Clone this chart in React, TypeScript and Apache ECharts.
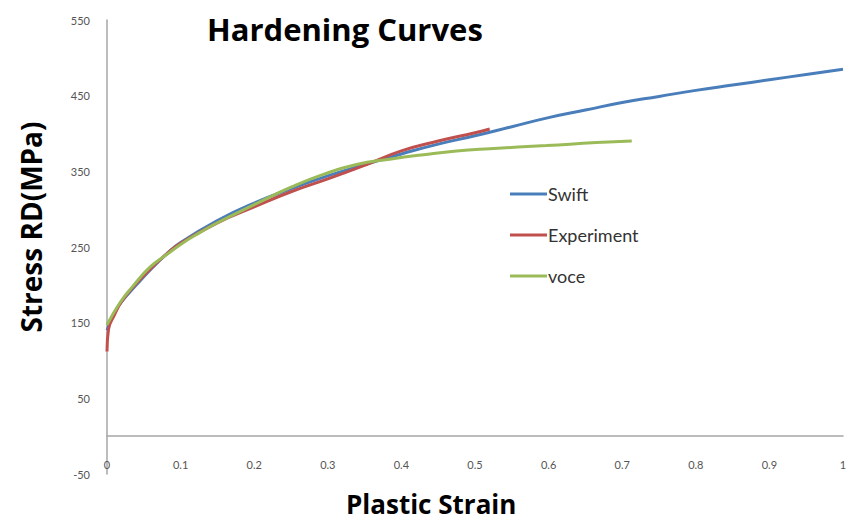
import React, { useEffect, useRef } from "react";
import * as echarts from "echarts";

const strainSwift = [0, 0.01, 0.02, 0.04, 0.06, 0.08, 0.1, 0.15, 0.2, 0.25, 0.3, 0.35, 0.4, 0.45, 0.5, 0.55, 0.6, 0.65, 0.7, 0.75, 0.8, 0.85, 0.9, 0.95, 1.0];
const stressSwift = [140, 163, 178, 200, 221, 240, 256, 285, 308, 327, 344, 359, 373, 386, 397, 409, 421, 431, 441, 449, 457, 464, 471, 478, 485];

const strainExp = [0, 0.002, 0.01, 0.02, 0.04, 0.06, 0.08, 0.1, 0.15, 0.2, 0.25, 0.3, 0.35, 0.4, 0.45, 0.5, 0.52];
const stressExp = [112, 141, 160, 178, 202, 222, 240, 255, 282, 303, 323, 340, 358, 377, 390, 401, 406];

const strainVoce = [0, 0.018, 0.035, 0.058, 0.081, 0.104, 0.126, 0.15, 0.2, 0.25, 0.294, 0.339, 0.384, 0.43, 0.475, 0.52, 0.597, 0.665, 0.713];
const stressVoce = [147, 177, 198, 223, 240, 256, 269, 282, 306, 329, 346, 359, 366, 372, 377, 380, 384, 388, 390];

const seriesNames = ["Swift", "Experiment", "voce"];
const seriesColors = ["#4a7ebb", "#c0504d", "#9bbb59"];

const yTicks = { min: -50, max: 550, interval: 100 };
const xTicks = { min: 0, max: 1, interval: 0.1 };

const zip = (xs: number[], ys: number[]) => xs.map((x, i) => [x, ys[i]]);

export default function App() {
  const ref = useRef<HTMLDivElement>(null);
  useEffect(() => {
    document.body.style.margin = "0";
    if (!ref.current) return;
    const chart = echarts.init(ref.current, undefined, { renderer: "svg" });
    const font = "Lato, 'Open Sans', sans-serif";
    const boldFont = "'Open Sans', Lato, sans-serif";
    const datasets = [zip(strainSwift, stressSwift), zip(strainExp, stressExp), zip(strainVoce, stressVoce)];
    chart.setOption({
      animation: false,
      backgroundColor: "#ffffff",
      title: {
        text: "Hardening Curves",
        left: 202,
        top: 8,
        textStyle: { fontFamily: boldFont, fontSize: 31, fontWeight: "bold", color: "#000" },
      },
      legend: {
        orient: "vertical",
        left: 505,
        top: 179,
        icon: "rect",
        itemWidth: 37,
        itemHeight: 3,
        itemGap: 21,
        data: seriesNames,
        textStyle: { fontFamily: font, fontSize: 18, color: "#333", padding: [0, 0, 0, -4], lineHeight: 20 },
      },
      grid: { left: 107, right: 12, top: 20, bottom: 48, containLabel: false },
      xAxis: {
        type: "value",
        min: xTicks.min,
        max: xTicks.max,
        interval: xTicks.interval,
        axisLine: { show: true, onZero: true, lineStyle: { color: "#a6a6a6", width: 1.5 } },
        axisTick: { show: false },
        splitLine: { show: false },
        axisLabel: { margin: -15, fontFamily: font, fontSize: 11, color: "#555" },
      },
      yAxis: {
        type: "value",
        min: yTicks.min,
        max: yTicks.max,
        interval: yTicks.interval,
        axisLine: { show: true, lineStyle: { color: "#a6a6a6", width: 1.5 } },
        axisTick: { show: false },
        splitLine: { show: false },
        axisLabel: { margin: 17, fontFamily: font, fontSize: 11, color: "#555" },
      },
      graphic: [
        {
          type: "text",
          x: 346,
          y: 504,
          style: {
            text: "Plastic Strain",
            fontFamily: boldFont,
            fontSize: 26,
            fontWeight: "bold",
            fill: "#000",
            verticalAlign: "middle",
          },
        },
        {
          type: "text",
          x: 31,
          y: 227,
          rotation: Math.PI / 2,
          style: {
            text: "Stress RD(MPa)",
            fontFamily: boldFont,
            fontSize: 28,
            fontWeight: "bold",
            fill: "#000",
            align: "center",
            verticalAlign: "middle",
          },
        },
      ],
      series: seriesNames.map((name, i) => ({
        name,
        type: "line",
        data: datasets[i],
        smooth: true,
        showSymbol: false,
        lineStyle: { width: 3, color: seriesColors[i] },
        itemStyle: { color: seriesColors[i] },
        z: 2 + i,
      })),
    });
    return () => chart.dispose();
  }, []);
  return <div ref={ref} style={{ width: 855, height: 522 }} />;
}
